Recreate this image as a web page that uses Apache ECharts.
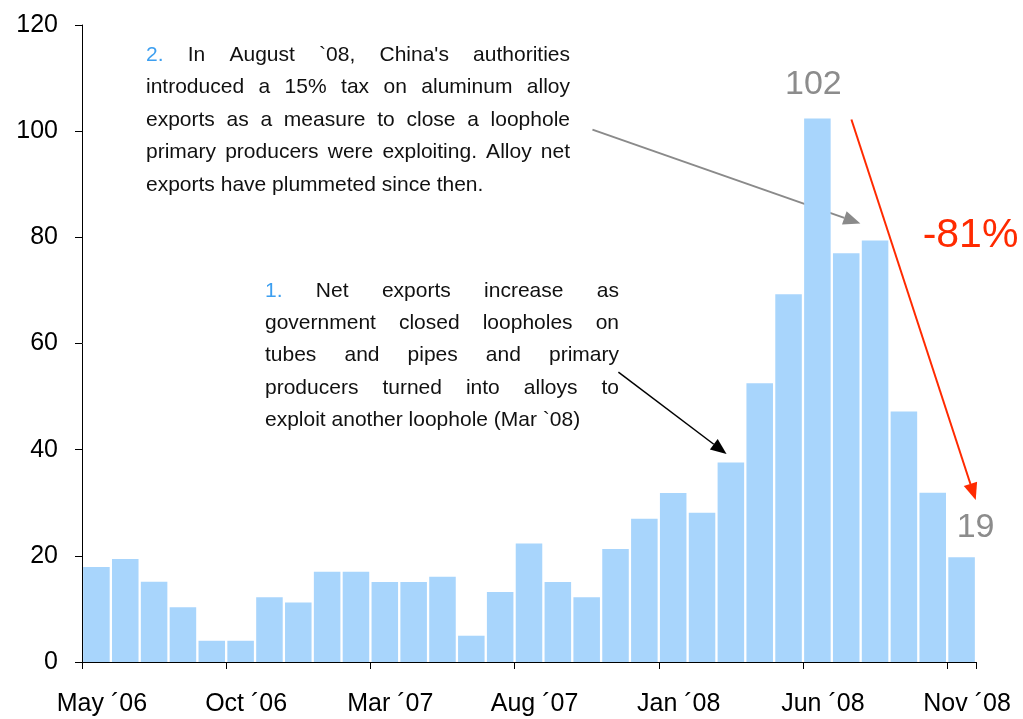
<!DOCTYPE html>
<html>
<head>
<meta charset="utf-8">
<script src="https://cdn.jsdelivr.net/npm/echarts@6/dist/echarts.min.js"></script>
<style>
html, body { margin: 0; padding: 0; background: #fff; }
#chart { width: 1023px; height: 719px; }
</style>
</head>
<body>
<div id="chart"></div>
<script>
// months, May '06 .. Nov '08
const months = [
  'May ´06', 'Jun ´06', 'Jul ´06', 'Aug ´06', 'Sep ´06', 'Oct ´06', 'Nov ´06', 'Dec ´06',
  'Jan ´07', 'Feb ´07', 'Mar ´07', 'Apr ´07', 'May ´07', 'Jun ´07', 'Jul ´07', 'Aug ´07',
  'Sep ´07', 'Oct ´07', 'Nov ´07', 'Dec ´07', 'Jan ´08', 'Feb ´08', 'Mar ´08', 'Apr ´08',
  'May ´08', 'Jun ´08', 'Jul ´08', 'Aug ´08', 'Sep ´08', 'Oct ´08', 'Nov ´08'
]
// net exports
const netExports = [
  17.9, 19.4, 15.1, 10.3, 4.0, 4.0, 12.2, 11.2, 17.0, 17.0, 15.05,
  15.05, 16.05, 4.95, 13.2, 22.3, 15.05, 12.2, 21.3, 27.0, 31.85,
  28.1, 37.6, 52.5, 69.3, 102.4, 77.0, 79.4, 47.2, 31.9, 19.75
]
const peakIndex = 25
const lastIndex = 30

const note2 = [
  '2. In August `08, China\'s authorities',
  'introduced a 15% tax on aluminum alloy',
  'exports as a measure to close a loophole',
  'primary producers were exploiting. Alloy net',
  'exports have plummeted since then.'
]
const note1 = [
  '1. Net exports increase as',
  'government closed loopholes on',
  'tubes and pipes and primary',
  'producers turned into alloys to',
  'exploit another loophole (Mar `08)'
]

const FONT = '"Liberation Sans", Arial, Helvetica, sans-serif'
const chart = echarts.init(document.getElementById('chart'))

const barData = netExports.map((v, i) => {
  if (i === peakIndex) {
    return { value: v, label: { show: true, position: 'top', distance: 17, offset: [-4, 0], fontSize: 34 } }
  }
  if (i === lastIndex) {
    return { value: v, label: { show: true, position: 'top', distance: 13, offset: [14, 0], fontSize: 34 } }
  }
  return v
})

const every5 = (i) => i % 5 === 0

chart.setOption({
  animation: false,
  grid: { left: 82, right: 47, top: 25, bottom: 57 },
  xAxis: {
    type: 'category',
    data: months,
    axisLine: { lineStyle: { color: '#000', width: 1 } },
    axisTick: { show: true, interval: every5, length: 7, lineStyle: { color: '#000' } },
    axisLabel: {
      interval: every5, margin: 30, fontSize: 25, color: '#000', fontFamily: FONT,
      padding: [0, 0, 0, 11]
    }
  },
  yAxis: {
    type: 'value',
    min: 0, max: 120, interval: 20,
    axisLine: { show: true, lineStyle: { color: '#000', width: 1 } },
    axisTick: { show: true, length: 7, lineStyle: { color: '#000' } },
    splitLine: { show: false },
    axisLabel: { margin: 24, fontSize: 25, color: '#000', fontFamily: FONT }
  },
  series: [{
    type: 'bar',
    data: barData,
    barCategoryGap: '8%',
    itemStyle: { color: '#a8d5fc' },
    label: {
      show: false, color: '#8c8c8c', fontFamily: FONT,
      formatter: (p) => String(Math.floor(p.value))
    }
  }]
})

// position on the data grid, f = fractional category index
const px = (f, v) => {
  const a = chart.convertToPixel({ gridIndex: 0 }, [0, v])
  const b = chart.convertToPixel({ gridIndex: 0 }, [1, v])
  return [a[0] + f * (b[0] - a[0]), a[1]]
}

const arrow = (from, to, color, width, len, half) => {
  const p0 = px(from[0], from[1])
  const p1 = px(to[0], to[1])
  const dx = p1[0] - p0[0], dy = p1[1] - p0[1]
  const d = Math.sqrt(dx * dx + dy * dy)
  const ux = dx / d, uy = dy / d
  const bx = p1[0] - ux * len, by = p1[1] - uy * len
  return [
    { type: 'line', shape: { x1: p0[0], y1: p0[1], x2: bx, y2: by }, style: { stroke: color, lineWidth: width } },
    {
      type: 'polygon',
      shape: { points: [p1, [bx - uy * half, by + ux * half], [bx + uy * half, by - ux * half]] },
      style: { fill: color }
    }
  ]
}

// justified paragraph, last line left aligned
const ctx = document.createElement('canvas').getContext('2d')
const paragraph = (lines, left, right, top, gap) => {
  const font = '21px ' + FONT
  ctx.font = font
  const space = ctx.measureText(' ').width
  const out = []
  lines.forEach((line, li) => {
    const words = line.split(' ')
    const widths = words.map(w => ctx.measureText(w).width)
    const total = widths.reduce((a, b) => a + b, 0)
    const last = li === lines.length - 1
    const g = last ? space : (right - left - total) / (words.length - 1)
    let x = left
    words.forEach((w, wi) => {
      out.push({
        type: 'text', x: x, y: top + li * gap,
        style: {
          text: w, font: font, fill: (li === 0 && wi === 0) ? '#3d9ff0' : '#111',
          align: 'left', verticalAlign: 'middle'
        }
      })
      x += widths[wi] + g
    })
  })
  return out
}

const pct = px(30.31, 80.4)
chart.setOption({
  graphic: [
    ...paragraph(note2, 146, 570, 55, 32.5),
    ...paragraph(note1, 265, 619, 291, 32.3),
    ...arrow([17.2, 100.3], [26.49, 82.6], '#8a8a8a', 2, 17, 7),
    ...arrow([18.1, 54.6], [21.85, 39.2], '#000', 1.5, 16, 6.5),
    ...arrow([26.18, 102.2], [30.49, 30.5], '#ff2a00', 2, 17, 7),
    {
      type: 'text', x: pct[0], y: pct[1],
      style: { text: '-81%', font: '41px ' + FONT, fill: '#ff2a00', align: 'center', verticalAlign: 'middle' }
    }
  ]
})
</script>
</body>
</html>
